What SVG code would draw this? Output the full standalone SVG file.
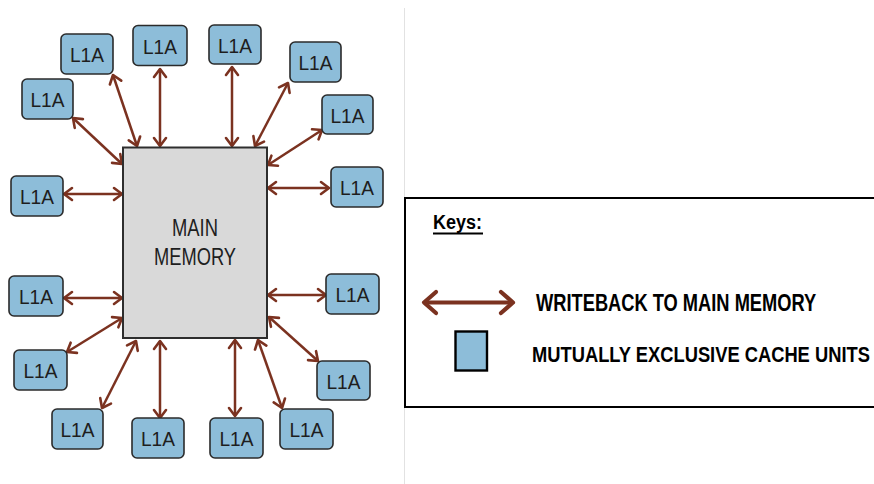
<svg xmlns="http://www.w3.org/2000/svg" width="874" height="484" viewBox="0 0 874 484">
  <style>
    .cache rect { fill: #8dbdd9; stroke: #2b2b2b; stroke-width: 1.6; }
    .cache text { font-family: "Liberation Sans", Arial, sans-serif; font-size: 21px; fill: #1e1e1e; text-anchor: middle; }
    .link { stroke: #7b3220; stroke-width: 2.5; fill: none; marker-start: url(#head); marker-end: url(#head); }
    .key { font-family: "Liberation Sans", Arial, sans-serif; font-weight: bold; fill: #000; }
  </style>
  <defs>
    <marker id="head" viewBox="-10 -8 12 16" refX="0" refY="0" markerWidth="12" markerHeight="16" markerUnits="userSpaceOnUse" orient="auto-start-reverse" overflow="visible">
      <path d="M-8,-6 L0,0 L-8,6" fill="none" stroke="#7b3220" stroke-width="2.6" stroke-linecap="round" stroke-linejoin="round"/>
    </marker>
    <marker id="bighead" viewBox="-18 -16 20 32" refX="0" refY="0" markerWidth="20" markerHeight="32" markerUnits="userSpaceOnUse" orient="auto-start-reverse" overflow="visible">
      <path d="M-12,-10.5 L0,0 L-12,10.5" fill="none" stroke="#7b3220" stroke-width="4.2" stroke-linecap="round" stroke-linejoin="round"/>
    </marker>
  </defs>

  <rect width="874" height="484" fill="#ffffff"/>

  <!-- divider between diagram and legend -->
  <line x1="404.5" y1="8" x2="404.5" y2="484" stroke="#e2e2e2" stroke-width="1"/>

  <!-- writeback connectors -->
  <g id="connectors">
    <line class="link" x1="113" y1="75" x2="137" y2="146"/>
    <line class="link" x1="160" y1="69" x2="160" y2="146"/>
    <line class="link" x1="73" y1="118" x2="122" y2="164"/>
    <line class="link" x1="64" y1="194" x2="122" y2="194"/>
    <line class="link" x1="232" y1="67" x2="232" y2="146"/>
    <line class="link" x1="288" y1="83" x2="255" y2="146"/>
    <line class="link" x1="322" y1="130" x2="268" y2="165"/>
    <line class="link" x1="268" y1="188" x2="329" y2="188"/>
    <line class="link" x1="64" y1="298" x2="122" y2="298"/>
    <line class="link" x1="67" y1="352" x2="122" y2="318"/>
    <line class="link" x1="102" y1="408" x2="136" y2="341"/>
    <line class="link" x1="160" y1="341" x2="160" y2="418"/>
    <line class="link" x1="268" y1="295" x2="326" y2="295"/>
    <line class="link" x1="269" y1="317" x2="318" y2="361"/>
    <line class="link" x1="258" y1="340" x2="282" y2="408"/>
    <line class="link" x1="235" y1="340" x2="235" y2="416"/>
  </g>

  <!-- main memory block -->
  <g id="main-memory">
    <rect x="123" y="147.5" width="144" height="190.5" fill="#d9d9d9" stroke="#2e2e2e" stroke-width="2"/>
    <text x="195" y="236" font-family="'Liberation Sans', Arial, sans-serif" font-size="23" fill="#1e1e1e" text-anchor="middle" textLength="46" lengthAdjust="spacingAndGlyphs">MAIN</text>
    <text x="195" y="265" font-family="'Liberation Sans', Arial, sans-serif" font-size="23" fill="#1e1e1e" text-anchor="middle" textLength="82" lengthAdjust="spacingAndGlyphs">MEMORY</text>
  </g>

  <!-- L1A cache units -->
  <g id="l1a-01" class="cache"><rect x="61" y="34" width="52" height="40" rx="5"/><text x="87" y="62" textLength="34" lengthAdjust="spacingAndGlyphs">L1A</text></g>
  <g id="l1a-02" class="cache"><rect x="133" y="25.5" width="54" height="40" rx="5"/><text x="160" y="54" textLength="34" lengthAdjust="spacingAndGlyphs">L1A</text></g>
  <g id="l1a-03" class="cache"><rect x="22" y="79" width="51" height="40" rx="5"/><text x="47.5" y="107" textLength="34" lengthAdjust="spacingAndGlyphs">L1A</text></g>
  <g id="l1a-04" class="cache"><rect x="11" y="176" width="52" height="40" rx="5"/><text x="37" y="204" textLength="34" lengthAdjust="spacingAndGlyphs">L1A</text></g>
  <g id="l1a-05" class="cache"><rect x="209" y="25" width="52" height="39" rx="5"/><text x="235" y="53" textLength="34" lengthAdjust="spacingAndGlyphs">L1A</text></g>
  <g id="l1a-06" class="cache"><rect x="290" y="42" width="51" height="40" rx="5"/><text x="315.5" y="70" textLength="34" lengthAdjust="spacingAndGlyphs">L1A</text></g>
  <g id="l1a-07" class="cache"><rect x="322" y="95" width="51" height="39" rx="5"/><text x="347.5" y="123" textLength="34" lengthAdjust="spacingAndGlyphs">L1A</text></g>
  <g id="l1a-08" class="cache"><rect x="331" y="167" width="52" height="40" rx="5"/><text x="357" y="195" textLength="34" lengthAdjust="spacingAndGlyphs">L1A</text></g>
  <g id="l1a-09" class="cache"><rect x="9" y="276" width="54" height="40" rx="5"/><text x="36" y="304" textLength="34" lengthAdjust="spacingAndGlyphs">L1A</text></g>
  <g id="l1a-10" class="cache"><rect x="14" y="350" width="53" height="40" rx="5"/><text x="40.5" y="378" textLength="34" lengthAdjust="spacingAndGlyphs">L1A</text></g>
  <g id="l1a-11" class="cache"><rect x="52" y="409" width="51" height="40" rx="5"/><text x="77.5" y="437" textLength="34" lengthAdjust="spacingAndGlyphs">L1A</text></g>
  <g id="l1a-12" class="cache"><rect x="132" y="418" width="52" height="40" rx="5"/><text x="158" y="446" textLength="34" lengthAdjust="spacingAndGlyphs">L1A</text></g>
  <g id="l1a-13" class="cache"><rect x="326" y="274" width="53" height="40" rx="5"/><text x="352.5" y="302" textLength="34" lengthAdjust="spacingAndGlyphs">L1A</text></g>
  <g id="l1a-14" class="cache"><rect x="317" y="361" width="53" height="39" rx="5"/><text x="343.5" y="389" textLength="34" lengthAdjust="spacingAndGlyphs">L1A</text></g>
  <g id="l1a-15" class="cache"><rect x="280" y="409" width="53" height="40" rx="5"/><text x="306.5" y="437" textLength="34" lengthAdjust="spacingAndGlyphs">L1A</text></g>
  <g id="l1a-16" class="cache"><rect x="210" y="418" width="53" height="40" rx="5"/><text x="236.5" y="446" textLength="34" lengthAdjust="spacingAndGlyphs">L1A</text></g>

  <!-- legend -->
  <g id="legend">
    <rect x="405" y="198" width="480" height="209" fill="#ffffff" stroke="#000000" stroke-width="2"/>
    <text class="key" x="433" y="229" font-size="20" textLength="49" lengthAdjust="spacingAndGlyphs">Keys:</text>
    <line x1="433" y1="233.5" x2="483" y2="233.5" stroke="#000" stroke-width="1.8"/>
    <line x1="424" y1="302.5" x2="513" y2="302.5" stroke="#7b3220" stroke-width="4.2" marker-start="url(#bighead)" marker-end="url(#bighead)"/>
    <!-- legend captions: bold face squeezed horizontally to a narrow width -->
    <text class="key" font-size="23" transform="translate(536 311) scale(0.795 1)">WRITEBACK TO MAIN MEMORY</text>
    <rect x="455.5" y="331.5" width="31.5" height="39" fill="#8dbdd9" stroke="#000000" stroke-width="2.4"/>
    <text class="key" font-size="23" transform="translate(532 361.5) scale(0.797 1)">MUTUALLY EXCLUSIVE CACHE UNITS</text>
  </g>
</svg>
